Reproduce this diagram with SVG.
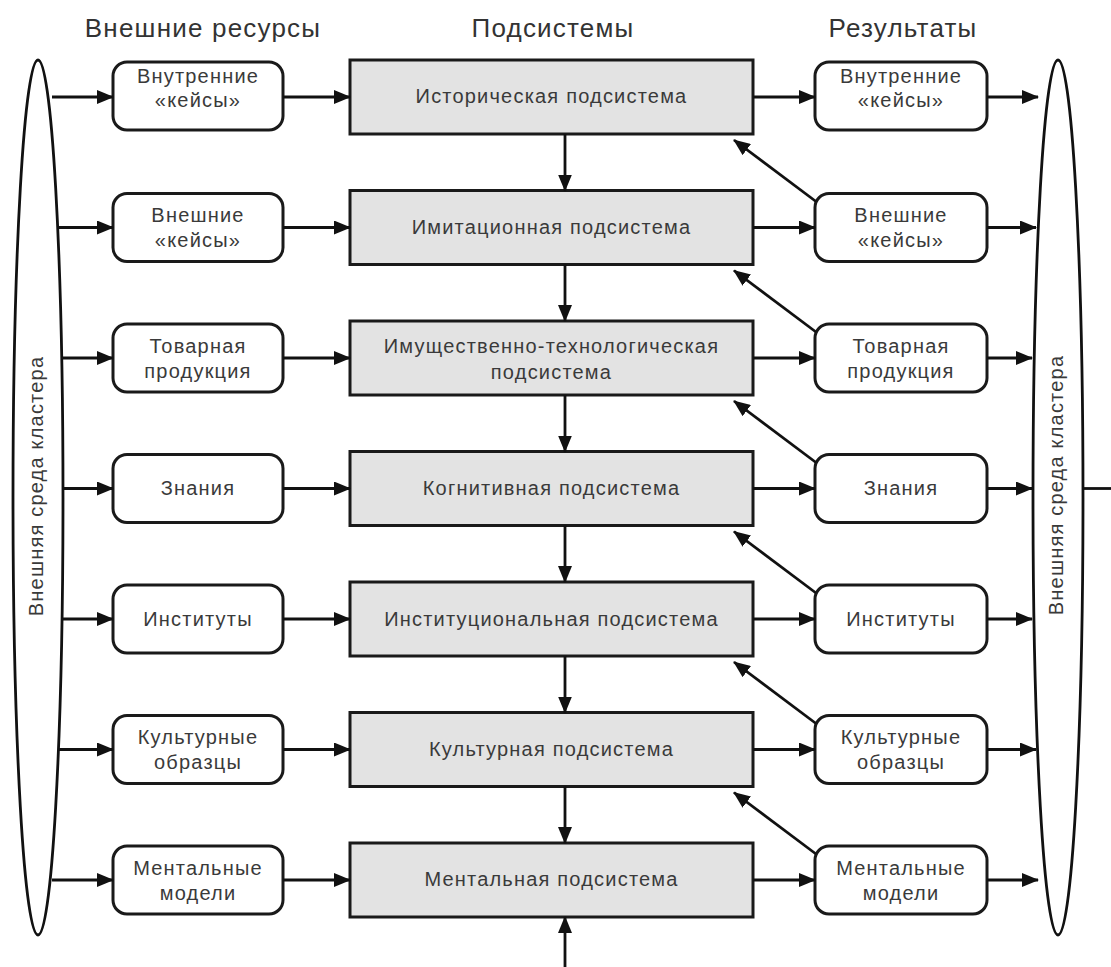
<svg xmlns="http://www.w3.org/2000/svg" width="1111" height="967" viewBox="0 0 1111 967">
<style>
.hdr{font-family:"Liberation Sans",Arial,sans-serif;font-size:26px;fill:#333;letter-spacing:1.2px;text-anchor:middle}
.t{font-family:"Liberation Sans",Arial,sans-serif;font-size:20px;fill:#3a3a3a;letter-spacing:1.2px;text-anchor:middle}
.sub rect{fill:#e3e3e3;stroke:#1a1a1a;stroke-width:3}
.rb rect{fill:#fff;stroke:#1a1a1a;stroke-width:3}
.env{fill:none;stroke:#111;stroke-width:2.8}
#connectors line{stroke:#111;stroke-width:2.8;fill:none}
#connectors .a{marker-end:url(#ah)}
</style>
<defs>
<marker id="ah" viewBox="0 0 17 14" refX="16" refY="7" markerWidth="17" markerHeight="14" orient="auto" markerUnits="userSpaceOnUse">
<path d="M0,0 L17,7 L0,14 z" fill="#111"/>
</marker>
</defs>
<rect width="1111" height="967" fill="#fff"/>

<text class="hdr" x="203" y="37">Внешние ресурсы</text>
<text class="hdr" x="553" y="37">Подсистемы</text>
<text class="hdr" x="903" y="37">Результаты</text>

<g id="env-left">
<ellipse class="env" cx="38" cy="497.5" rx="25" ry="437.5"/>
<text class="t" transform="translate(43,486) rotate(-90)">Внешняя среда кластера</text>
</g>
<g id="env-right">
<ellipse class="env" cx="1058" cy="497.5" rx="25" ry="437.5"/>
<text class="t" transform="translate(1063,485) rotate(-90)">Внешняя среда кластера</text>
</g>

<!-- Left resources -->
<g id="in1" class="rb"><rect x="113" y="62" width="170" height="68" rx="14"/><text class="t" x="198" y="83">Внутренние</text><text class="t" x="198" y="107">«кейсы»</text></g>
<g id="in2" class="rb"><rect x="113" y="193.5" width="170" height="68" rx="14"/><text class="t" x="198" y="222">Внешние</text><text class="t" x="198" y="247">«кейсы»</text></g>
<g id="in3" class="rb"><rect x="113" y="324" width="170" height="68" rx="14"/><text class="t" x="198" y="353">Товарная</text><text class="t" x="198" y="378">продукция</text></g>
<g id="in4" class="rb"><rect x="113" y="454.5" width="170" height="68" rx="14"/><text class="t" x="198" y="495">Знания</text></g>
<g id="in5" class="rb"><rect x="113" y="585" width="170" height="68" rx="14"/><text class="t" x="198" y="625.5">Институты</text></g>
<g id="in6" class="rb"><rect x="113" y="715.5" width="170" height="68" rx="14"/><text class="t" x="198" y="744">Культурные</text><text class="t" x="198" y="769">образцы</text></g>
<g id="in7" class="rb"><rect x="113" y="846" width="170" height="68" rx="14"/><text class="t" x="198" y="875">Ментальные</text><text class="t" x="198" y="900">модели</text></g>

<!-- Subsystems -->
<g id="s1" class="sub"><rect x="350" y="60" width="403" height="74"/><text class="t" x="551.5" y="103">Историческая подсистема</text></g>
<g id="s2" class="sub"><rect x="350" y="190.5" width="403" height="74"/><text class="t" x="551.5" y="234">Имитационная подсистема</text></g>
<g id="s3" class="sub"><rect x="350" y="321" width="403" height="74"/><text class="t" x="551.5" y="353">Имущественно-технологическая</text><text class="t" x="551.5" y="379">подсистема</text></g>
<g id="s4" class="sub"><rect x="350" y="451.5" width="403" height="74"/><text class="t" x="551.5" y="495">Когнитивная подсистема</text></g>
<g id="s5" class="sub"><rect x="350" y="582" width="403" height="74"/><text class="t" x="551.5" y="625.5">Институциональная подсистема</text></g>
<g id="s6" class="sub"><rect x="350" y="712.5" width="403" height="74"/><text class="t" x="551.5" y="756">Культурная подсистема</text></g>
<g id="s7" class="sub"><rect x="350" y="843" width="403" height="74"/><text class="t" x="551.5" y="886">Ментальная подсистема</text></g>

<!-- Results -->
<g id="out1" class="rb"><rect x="815" y="62" width="172" height="68" rx="14"/><text class="t" x="901" y="83">Внутренние</text><text class="t" x="901" y="107">«кейсы»</text></g>
<g id="out2" class="rb"><rect x="815" y="193.5" width="172" height="68" rx="14"/><text class="t" x="901" y="222">Внешние</text><text class="t" x="901" y="247">«кейсы»</text></g>
<g id="out3" class="rb"><rect x="815" y="324" width="172" height="68" rx="14"/><text class="t" x="901" y="353">Товарная</text><text class="t" x="901" y="378">продукция</text></g>
<g id="out4" class="rb"><rect x="815" y="454.5" width="172" height="68" rx="14"/><text class="t" x="901" y="495">Знания</text></g>
<g id="out5" class="rb"><rect x="815" y="585" width="172" height="68" rx="14"/><text class="t" x="901" y="625.5">Институты</text></g>
<g id="out6" class="rb"><rect x="815" y="715.5" width="172" height="68" rx="14"/><text class="t" x="901" y="744">Культурные</text><text class="t" x="901" y="769">образцы</text></g>
<g id="out7" class="rb"><rect x="815" y="846" width="172" height="68" rx="14"/><text class="t" x="901" y="875">Ментальные</text><text class="t" x="901" y="900">модели</text></g>

<g id="connectors">
<!-- row 1 -->
<line class="a" x1="52" y1="97" x2="113" y2="97"/>
<line class="a" x1="283" y1="97" x2="350" y2="97"/>
<line class="a" x1="753" y1="97" x2="815" y2="97"/>
<line class="a" x1="987" y1="97" x2="1038" y2="97"/>
<!-- row 2 -->
<line class="a" x1="58" y1="227.5" x2="113" y2="227.5"/>
<line class="a" x1="283" y1="227.5" x2="350" y2="227.5"/>
<line class="a" x1="753" y1="227.5" x2="815" y2="227.5"/>
<line class="a" x1="987" y1="227.5" x2="1036" y2="227.5"/>
<!-- row 3 -->
<line class="a" x1="62" y1="358" x2="113" y2="358"/>
<line class="a" x1="283" y1="358" x2="350" y2="358"/>
<line class="a" x1="753" y1="358" x2="815" y2="358"/>
<line class="a" x1="987" y1="358" x2="1032" y2="358"/>
<!-- row 4 -->
<line class="a" x1="63" y1="488.5" x2="113" y2="488.5"/>
<line class="a" x1="283" y1="488.5" x2="350" y2="488.5"/>
<line class="a" x1="753" y1="488.5" x2="815" y2="488.5"/>
<line class="a" x1="987" y1="488.5" x2="1032" y2="488.5"/>
<line x1="1083" y1="488.5" x2="1111" y2="488.5"/>
<!-- row 5 -->
<line class="a" x1="62" y1="619" x2="113" y2="619"/>
<line class="a" x1="283" y1="619" x2="350" y2="619"/>
<line class="a" x1="753" y1="619" x2="815" y2="619"/>
<line class="a" x1="987" y1="619" x2="1032" y2="619"/>
<!-- row 6 -->
<line class="a" x1="58" y1="749.5" x2="113" y2="749.5"/>
<line class="a" x1="283" y1="749.5" x2="350" y2="749.5"/>
<line class="a" x1="753" y1="749.5" x2="815" y2="749.5"/>
<line class="a" x1="987" y1="749.5" x2="1036" y2="749.5"/>
<!-- row 7 -->
<line class="a" x1="52" y1="880" x2="113" y2="880"/>
<line class="a" x1="283" y1="880" x2="350" y2="880"/>
<line class="a" x1="753" y1="880" x2="815" y2="880"/>
<line class="a" x1="987" y1="880" x2="1038" y2="880"/>
<!-- vertical -->
<line class="a" x1="565" y1="134" x2="565" y2="190.5"/>
<line class="a" x1="565" y1="264.5" x2="565" y2="321"/>
<line class="a" x1="565" y1="395" x2="565" y2="451.5"/>
<line class="a" x1="565" y1="525.5" x2="565" y2="582"/>
<line class="a" x1="565" y1="656" x2="565" y2="712.5"/>
<line class="a" x1="565" y1="786.5" x2="565" y2="843"/>
<line class="a" x1="565" y1="967" x2="565" y2="917"/>
<!-- diagonal feedback -->
<line class="a" x1="816" y1="201.5" x2="734" y2="140"/>
<line class="a" x1="816" y1="332" x2="734" y2="270.5"/>
<line class="a" x1="816" y1="462.5" x2="734" y2="401"/>
<line class="a" x1="816" y1="593" x2="734" y2="531.5"/>
<line class="a" x1="816" y1="723.5" x2="734" y2="662"/>
<line class="a" x1="816" y1="854" x2="734" y2="792.5"/>
</g>
</svg>
